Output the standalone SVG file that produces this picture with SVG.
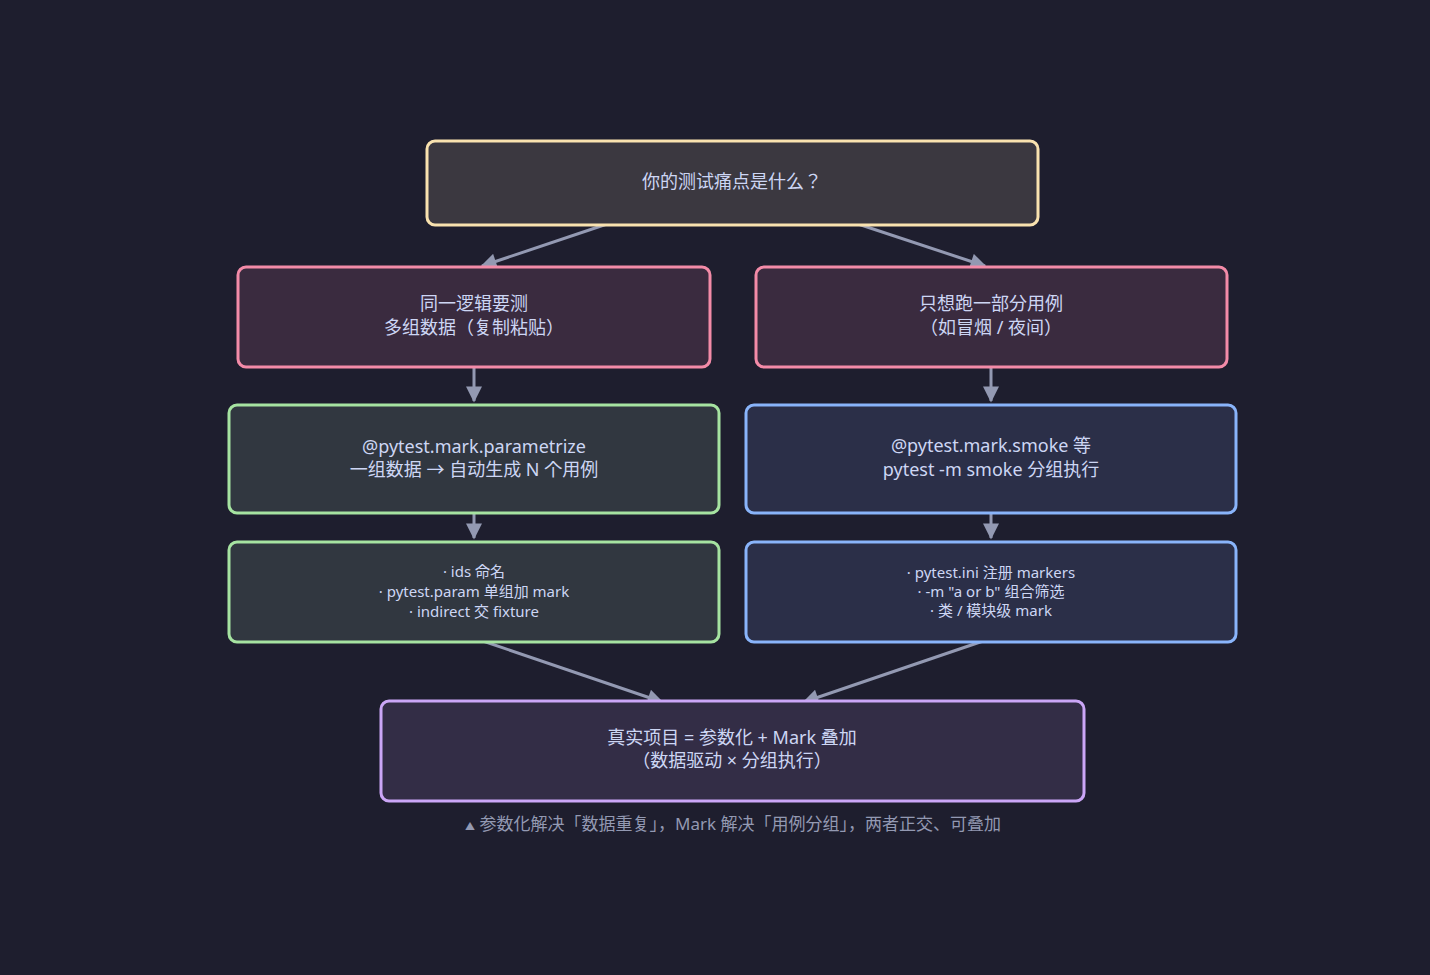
<svg xmlns="http://www.w3.org/2000/svg" width="1430" height="975" viewBox="0 0 1430 975">
<style>
text{font-family:"Noto Sans","Noto Sans CJK JP",sans-serif;fill:#cdd6f4;text-anchor:middle}
.m{font-size:18px}.s{font-size:15px}.c{font-size:17px;fill:#9399b2}
rect{stroke-width:3}
.e{stroke:#9399b2;stroke-width:3;fill:none;marker-end:url(#a)}
</style>
<defs><marker id="a" viewBox="0 0 10 10" refX="9" refY="5" markerWidth="18" markerHeight="16" orient="auto" markerUnits="userSpaceOnUse"><path d="M0,0L10,5L0,10z" fill="#9399b2"/></marker></defs>
<rect width="1430" height="975" fill="#1e1e2e" style="stroke:none"/>
<g id="connectors">
<path class="e" d="M610,223L482,266"/><path class="e" d="M855,223L985,266"/>
<path class="e" d="M474,368L474,401"/><path class="e" d="M991,368L991,401"/>
<path class="e" d="M474,514L474,538"/><path class="e" d="M991,514L991,538"/>
<path class="e" d="M477,639L662,702"/><path class="e" d="M989,639L804,702"/>
</g>
<g id="top"><rect x="427" y="141" width="611" height="84" rx="8" fill="#3b3840" stroke="#f9e2af"/><text class="m" x="732" y="188">你的测试痛点是什么？</text></g>
<g id="p1"><rect x="238" y="267" width="472" height="100" rx="8" fill="#3a2b3f" stroke="#f38ba8"/><text class="m" x="474" y="310">同一逻辑要测</text><text class="m" x="474" y="334">多组数据（复制粘贴）</text></g>
<g id="p2"><rect x="756" y="267" width="471" height="100" rx="8" fill="#3a2b3f" stroke="#f38ba8"/><text class="m" x="991" y="310">只想跑一部分用例</text><text class="m" x="991" y="334">（如冒烟 / 夜间）</text></g>
<g id="s1"><rect x="229" y="405" width="490" height="108" rx="8" fill="#313740" stroke="#a6e3a1"/><text class="m" x="474" y="453">@pytest.mark.parametrize</text><text class="m" x="474" y="476">一组数据 → 自动生成 N 个用例</text></g>
<g id="s2"><rect x="746" y="405" width="490" height="108" rx="8" fill="#2b2f48" stroke="#89b4fa"/><text class="m" x="991" y="452">@pytest.mark.smoke 等</text><text class="m" x="991" y="476">pytest -m smoke 分组执行</text></g>
<g id="d1"><rect x="229" y="542" width="490" height="100" rx="8" fill="#313740" stroke="#a6e3a1"/><text class="s" x="474" y="577">· ids 命名</text><text class="s" x="474" y="597">· pytest.param 单组加 mark</text><text class="s" x="474" y="617">· indirect 交 fixture</text></g>
<g id="d2"><rect x="746" y="542" width="490" height="100" rx="8" fill="#2b2f48" stroke="#89b4fa"/><text class="s" x="991" y="578">· pytest.ini 注册 markers</text><text class="s" x="991" y="597">· -m "a or b" 组合筛选</text><text class="s" x="991" y="616">· 类 / 模块级 mark</text></g>
<g id="bottom"><rect x="381" y="701" width="703" height="100" rx="8" fill="#332d46" stroke="#cba6f7"/><text class="m" x="732" y="744">真实项目 = 参数化 + Mark 叠加</text><text class="m" x="732" y="767">（数据驱动 × 分组执行）</text></g>
<text class="c" x="733" y="830"><tspan font-size="10">▲</tspan> 参数化解决「数据重复」，Mark 解决「用例分组」，两者正交、可叠加</text>
</svg>
